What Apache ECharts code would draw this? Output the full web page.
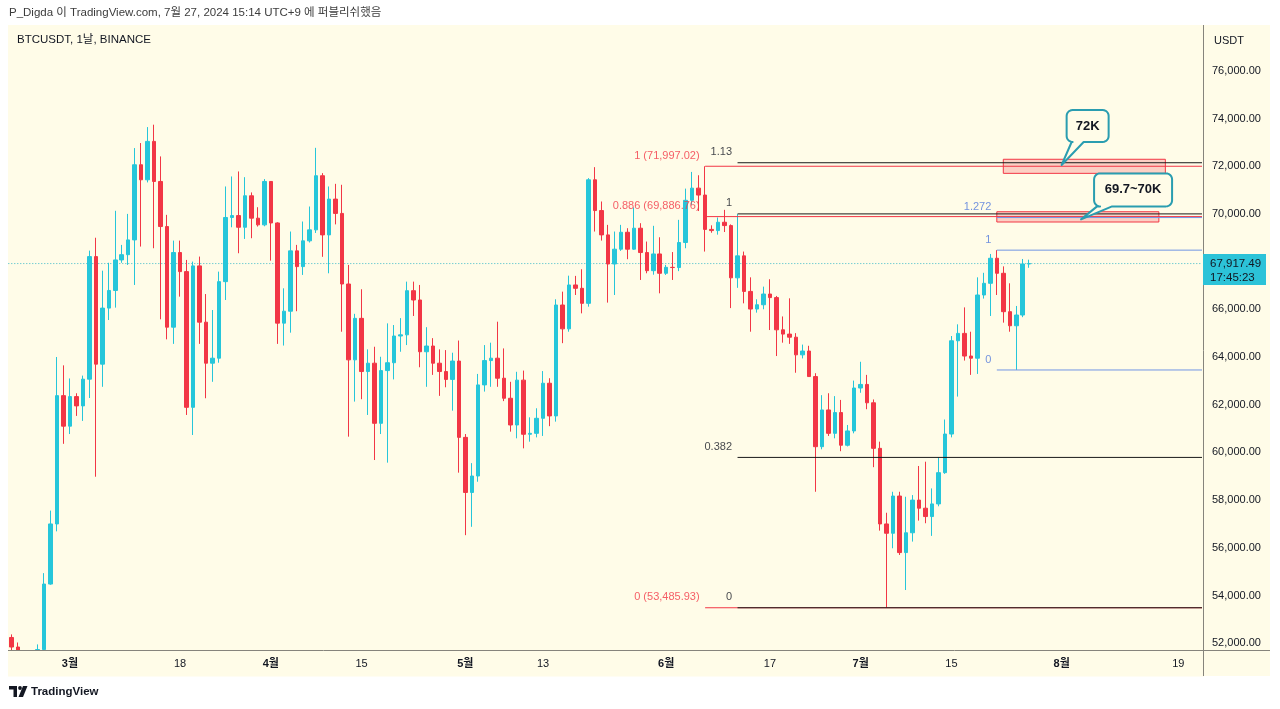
<!DOCTYPE html>
<html><head><meta charset="utf-8">
<script src="https://cdn.jsdelivr.net/npm/echarts@6/dist/echarts.min.js"></script>
<style>
html,body{margin:0;padding:0;background:#ffffff;width:1280px;height:709px;overflow:hidden}
#bg{position:absolute;left:8px;top:25px;width:1262px;height:651px;background:#fffce8}
#chart{position:absolute;left:0;top:0;width:1280px;height:709px}
</style></head><body>
<div id="bg"></div><div id="chart"></div>
<script>
// ---------------- DATA ----------------
const firstDate = '2024-02-21';
const dayCount = 184;           // visible day slots (incl. future area)
const opens = [52240,51840,51304,50731,51571,51733,54480,57000,62380,61100,
62340,61950,63070,68210,63700,66050,66790,68070,68290,68910,
72060,71430,73040,71360,69470,65250,68380,67580,61890,67820,
65460,63740,63950,67160,69850,69930,69440,70760,69820,69540,
71360,69620,65420,65920,68450,67790,68870,69330,71600,69120,
70620,70020,67060,63880,65620,63390,63740,61220,63430,63760,
64880,64930,66780,66390,64220,64460,63740,63390,63060,63830,
60630,58320,59010,62830,63850,63950,63110,62270,61150,63030,
60760,60800,61430,62900,61530,66180,65180,67020,66880,66250,
71430,70140,69120,67900,68520,69230,68520,69400,68380,67620,
68320,67510,67760,67750,68800,70570,71080,70790,69350,69300,
69650,69510,67320,68240,66750,66010,66190,66640,66490,65140,
64960,64830,64090,64250,63180,60240,61780,60800,61670,60300,
60900,62700,62850,62080,60170,57000,56610,58170,55800,56630,
58000,57660,57310,57840,59150,60770,64680,64990,64040,63950,
66600,67090,68140,67510,65900,65310,65760,67900];
const closes = [51840,51304,50731,51571,51733,54480,57000,62380,61100,62340,
61950,63070,68210,63700,66050,66790,68070,68290,68910,72060,
71430,73040,71360,69470,65250,68380,67580,61890,67820,65460,
63740,63950,67160,69850,69930,69440,70760,69820,69540,71360,
69620,65420,65920,68450,67790,68870,69330,71600,69120,70620,
70020,67060,63880,65620,63390,63740,61220,63430,63760,64880,
64930,66780,66390,64220,64460,63740,63390,63060,63830,60630,
58320,59010,62830,63850,63950,63110,62270,61150,63030,60760,
60800,61430,62900,61530,66180,65180,67020,66880,66250,71430,
70140,69120,67900,68520,69230,68520,69400,68380,67620,68320,
67510,67760,67750,68800,70570,71080,70790,69350,69300,69650,
69510,67320,68240,66750,66010,66190,66640,66490,65140,64960,
64830,64090,64250,63180,60240,61780,60800,61670,60300,60900,
62700,62850,62080,60170,57000,56610,58170,55800,56630,58000,
57660,57310,57840,59150,60770,64680,64990,64040,63950,66600,
67090,68140,67510,65900,65310,65760,67900,67917.49];
const highs = [52370,52030,51548,51700,51950,54938,57560,64000,63650,63100,
62480,63220,68460,69000,67620,67950,70130,68700,70000,72760,
72970,73640,73740,72410,69960,68880,68880,68070,68000,68210,
66640,65970,67580,71150,71570,71780,71540,70900,70280,71460,
71370,69650,66880,69260,68700,69680,70310,72770,71710,71150,
71260,71220,67860,65810,66840,64320,64430,64010,65410,65340,
65630,67160,67160,67020,65250,64790,64320,64290,64180,64690,
60770,59550,63290,64500,64600,65480,64360,62960,63380,63430,
61470,61850,63410,63110,66420,66740,67410,67400,67680,71500,
71960,70520,69540,69260,69540,69400,70270,69610,68840,69500,
69020,67860,68400,69750,71060,71760,71620,71997.02,69520,69850,
70170,69560,69990,68420,67340,66420,66950,67260,66560,65700,
66460,65000,64520,64470,63320,62400,62480,62360,62200,61150,
63010,63800,63250,62220,60450,57470,58350,58350,58140,58210,
59430,59610,58490,59790,61380,64880,65370,66080,65060,67340,
67530,68320,68480,67800,67090,66140,68110,68080];
const lows = [50625,50926,50521,50574,51280,50901,54450,56690,60360,60770,
61530,61320,62280,58980,62750,65550,66070,67950,67860,67020,
68630,71320,68560,65580,64740,64550,66530,61570,60730,64550,
62270,62960,63760,66390,69440,68350,68950,68980,69470,69480,
68040,64550,64480,65020,65920,67440,68800,69200,68200,67510,
69560,65060,60660,62130,62230,61570,59680,60770,59570,63060,
64220,64500,65720,63570,62750,63250,62370,62730,61750,59150,
56530,56880,58770,62550,62750,62750,62150,60870,60590,60170,
60450,60630,60690,61100,61290,64580,65060,66600,65830,66110,
69260,68880,66280,66600,68450,68100,68490,67230,67510,67450,
66670,67440,67230,67600,68560,70380,70120,68420,69210,69130,
69240,66050,66900,66250,65060,65860,66000,65130,64040,64600,
64550,63340,63940,63170,58350,60130,60690,60590,60050,60250,
60800,62500,61810,59380,56720,53485.93,55980,55700,54230,56260,
57140,57030,56500,57740,59100,60630,62340,63850,63250,63290,
66450,65720,66600,65440,65060,63456,65670,67740];

const tickDates  = ['2024-03-01','2024-03-18','2024-04-01','2024-04-15','2024-05-01','2024-05-13','2024-06-01','2024-06-17','2024-07-01','2024-07-15','2024-08-01','2024-08-19'];
const tickLabels = ['3월','18','4월','15','5월','13','6월','17','7월','15','8월','19'];
const priceTicks = [52000,54000,56000,58000,60000,62000,64000,66000,68000,70000,72000,74000,76000];

const redFibStart = '2024-06-07';
const redFibPrices = [71997.02, 69886.76, 53485.93];
const redFibLabels = ['1 (71,997.02)', '0.886 (69,886.76)', '0 (53,485.93)'];
const blackFibStart = '2024-06-12';
const blackFibPrices = [72145, 70000, 59790, 53485.93];
const blackFibLabels = ['1.13', '1', '0.382', '0'];
const blueFibStart = '2024-07-22';
const blueFibPrices = [69846, 68480, 63456];
const blueFibLabels = ['1.272', '1', '0'];

const zoneStart  = ['2024-07-23','2024-07-22'];
const zoneEnd    = ['2024-08-17','2024-08-16'];
const zoneTop    = [72290, 70090];
const zoneBottom = [71700, 69660];

const calloutTexts  = ['72K', '69.7~70K'];
const calloutDates  = ['2024-08-01', '2024-08-04'];
const calloutPrices = [72050, 69770];

const lastPrice = 67917.49;
const lastPriceText = '67,917.49';
const countdownText = '17:45:23';

const headerText = 'P_Digda 이 TradingView.com, 7월 27, 2024 15:14 UTC+9 에 퍼블리쉬했음';
const symbolText = 'BTCUSDT, 1날, BINANCE';
const currencyText = 'USDT';

// ---------------- STYLE / LAYOUT ----------------
const UP = '#26c6da', DOWN = '#f23645';
const BG = '#fffce8';
const AXIS = '#86847c';
const TXT = '#131722';
const FONT = "'Liberation Sans', 'Noto Sans CJK KR', Arial, sans-serif";
const GL = 8.3, GR = 1201, GT = 26, GB = 650;
const Y_MIN = 51715, Y_MAX = 77878;
const calloutLayout = [
  {dx: 5, dy: -55, w: 42, h: 32, t1: 10, t2: 22},
  {dx: 13, dy: -46, w: 78, h: 33, t1: 16, t2: 31}
];

// dates
const dates = [];
(function(){ const t0 = Date.parse(firstDate + 'T00:00:00Z');
  for (let i = 0; i < dayCount; i++) dates.push(new Date(t0 + i*86400000).toISOString().slice(0,10)); })();
const idx = d => dates.indexOf(d);
const tickMap = {}; tickDates.forEach((d,i)=> tickMap[d] = tickLabels[i]);
const X_END = dayCount - 0.5 + 0.3;

const candleData = opens.map((o,i)=>[o, closes[i], lows[i], highs[i]]);

const series = [];
series.push({
  type:'candlestick', name:'BTCUSDT', data:candleData, barWidth:4, clip:true, z:3,
  itemStyle:{color:UP, color0:DOWN, borderColor:UP, borderColor0:DOWN, borderWidth:1}
});
// current price dotted line + zones
series.push({
  type:'line', xAxisIndex:1, yAxisIndex:0, data:[[-0.5,lastPrice],[dayCount-0.5,lastPrice]],
  symbol:'none', silent:true, z:2,
  lineStyle:{color:'#3bb9c9', width:1, type:[1,2]},
  markArea:{silent:true, itemStyle:{color:'rgba(242,54,69,0.22)', borderColor:'#f23645', borderWidth:1},
    data: zoneStart.map((s,i)=>[{coord:[idx(s), zoneTop[i]]},{coord:[idx(zoneEnd[i]), zoneBottom[i]]}])}
});
const PRICE_SERIES = 1;

function addFib(startDate, prices, labels, lineColor, labelColor, z){
  const s = idx(startDate);
  prices.forEach(p => series.push({type:'line', xAxisIndex:1, yAxisIndex:0, data:[[s,p],[X_END,p]],
    symbol:'none', clip:false, silent:true, z:z, lineStyle:{color:lineColor, width:1}}));
  series.push({type:'scatter', xAxisIndex:1, yAxisIndex:0, silent:true, z:z, symbolSize:1,
    itemStyle:{color:'rgba(0,0,0,0)'},
    data: prices.map((p,i)=>({value:[s,p], label:{formatter:labels[i]}})),
    label:{show:true, position:'left', distance:5, offset:[0,-10.5], color:labelColor, fontSize:11, fontFamily:FONT}});
}
addFib(redFibStart, redFibPrices, redFibLabels, '#f23645', '#f23645', 4);
addFib(blackFibStart, blackFibPrices, blackFibLabels, '#1a1a1a', TXT, 5);
addFib(blueFibStart, blueFibPrices, blueFibLabels, '#7196e4', '#4f78dc', 6);

const chart = echarts.init(document.getElementById('chart'));
chart.setOption({
  animation:false,
  backgroundColor:'transparent',
  grid:{left:GL, top:GT, width:GR-GL, height:GB-GT, containLabel:false},
  xAxis:[
    {type:'category', data:dates, boundaryGap:true, z:20,
     axisLine:{show:false}, axisTick:{show:false}, splitLine:{show:false},
     axisLabel:{interval:(i,v)=>tickMap.hasOwnProperty(v), margin:8, color:TXT, fontSize:11, fontFamily:FONT,
       formatter:v=>{ const t = tickMap[v] || ''; return t.indexOf('월')>=0 ? '{m|'+t+'}' : t; },
       rich:{m:{fontWeight:'bold', color:TXT, fontSize:11, fontFamily:FONT}}}},
    {type:'value', min:-0.5, max:dayCount-0.5, show:false}
  ],
  yAxis:{type:'value', position:'right', min:Y_MIN, max:Y_MAX, z:20,
    axisLine:{show:false}, axisTick:{show:false}, splitLine:{show:false},
    axisLabel:{customValues:priceTicks, margin:11, color:TXT, fontSize:11, fontFamily:FONT, align:'left',
      formatter:v=>v.toLocaleString('en-US',{minimumFractionDigits:2, maximumFractionDigits:2})}},
  series:series
});

// ---------------- overlays placed via the chart's scales ----------------
function bubblePoints(bx, by, bw, bh, r, t1, t2, tipX, tipY){
  const pts = [];
  const arc = (cx, cy, a0, a1) => { for (let k=0;k<=6;k++){ const a=(a0+(a1-a0)*k/6)*Math.PI/180; pts.push([cx+r*Math.cos(a), cy+r*Math.sin(a)]); } };
  arc(bx+bw-r, by+r, -90, 0);
  arc(bx+bw-r, by+bh-r, 0, 90);
  pts.push([t2, by+bh]); pts.push([tipX, tipY]); pts.push([t1, by+bh]);
  arc(bx+r, by+bh-r, 90, 180);
  arc(bx+r, by+r, 180, 270);
  return pts;
}
const toPx = (x,y) => chart.convertToPixel({seriesIndex:PRICE_SERIES}, [x,y]);
const graphics = [
  // panel cover below plot (hides candle parts below the price range)
  {type:'rect', id:'cover', z:8, silent:true, shape:{x:8, y:650.5, width:1196, height:26}, style:{fill:BG}},
  {type:'line', id:'sepH', z:50, silent:true, shape:{x1:8, y1:650.5, x2:1270, y2:650.5}, style:{stroke:AXIS, lineWidth:1}},
  {type:'line', id:'sepV', z:50, silent:true, shape:{x1:1203.5, y1:25, x2:1203.5, y2:676}, style:{stroke:AXIS, lineWidth:1}},
  {type:'text', id:'hdr', x:9, y:13, z:50, style:{text:headerText, fill:'#3c3c3c', font:"11.5px "+FONT, textVerticalAlign:'middle', verticalAlign:'middle'}},
  {type:'text', id:'sym', x:17, y:40, z:50, style:{text:symbolText, fill:TXT, font:"11.5px "+FONT, textVerticalAlign:'middle', verticalAlign:'middle'}},
  {type:'text', id:'cur', x:1214, y:41, z:50, style:{text:currencyText, fill:TXT, font:"11px "+FONT, textVerticalAlign:'middle', verticalAlign:'middle'}},
  {type:'polygon', id:'logo1', z:50, shape:{points:[[9,686],[17,686],[17,697],[13.5,697],[13.5,689.5],[9,689.5]]}, style:{fill:TXT}},
  {type:'circle', id:'logo2', z:50, shape:{cx:20, cy:688, r:1.9}, style:{fill:TXT}},
  {type:'polygon', id:'logo3', z:50, shape:{points:[[23,686],[27.5,686],[23,697],[18.5,697]]}, style:{fill:TXT}},
  {type:'text', id:'logoT', x:31, y:691.5, z:50, style:{text:'TradingView', fill:TXT, font:"bold 11.5px "+FONT, textVerticalAlign:'middle', verticalAlign:'middle'}}
];
const lp = toPx(0, lastPrice);
graphics.push({type:'rect', id:'plBox', z:60, shape:{x:1203, y:lp[1]-9.5, width:63, height:31}, style:{fill:'#2cc3d8'}});
graphics.push({type:'text', id:'plT1', x:1210, y:lp[1], z:61, style:{text:lastPriceText, fill:TXT, font:"11.5px "+FONT, textVerticalAlign:'middle', verticalAlign:'middle'}});
graphics.push({type:'text', id:'plT2', x:1210, y:lp[1]+14, z:61, style:{text:countdownText, fill:TXT, font:"11.5px "+FONT, textVerticalAlign:'middle', verticalAlign:'middle'}});

calloutTexts.forEach((t,i)=>{
  const tip = toPx(idx(calloutDates[i]), calloutPrices[i]);
  const L = calloutLayout[i];
  const bx = tip[0]+L.dx, by = tip[1]+L.dy;
  graphics.push({type:'polygon', id:'cb'+i, z:70, shape:{points:bubblePoints(bx, by, L.w, L.h, 6, tip[0]+L.t1, tip[0]+L.t2, tip[0], tip[1])},
    style:{fill:BG, stroke:'#2a9db0', lineWidth:2, lineJoin:'round'}});
  graphics.push({type:'text', id:'ct'+i, z:71, x:bx+L.w/2, y:by+L.h/2, style:{text:t, fill:TXT, font:"bold 13px "+FONT,
    textAlign:'center', align:'center', textVerticalAlign:'middle', verticalAlign:'middle'}});
});
chart.setOption({graphic:graphics});
</script>
</body></html>
